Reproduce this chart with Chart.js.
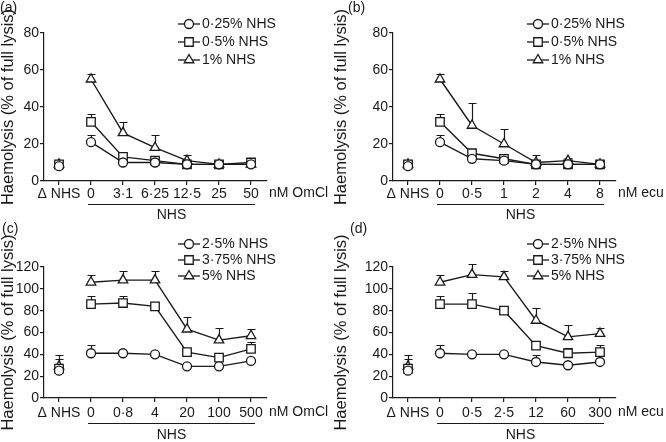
<!DOCTYPE html>
<html>
<head>
<meta charset="utf-8">
<script src="https://cdn.jsdelivr.net/npm/chart.js@4.4.0/dist/chart.umd.min.js"></script>
<style>
  html, body { margin: 0; padding: 0; background: #fff; }
  #wrap { position: relative; width: 666px; height: 442px; }
  canvas { position: absolute; }
</style>
</head>
<body>
<div id="wrap">
  <canvas id="pa" width="333" height="221" style="left:0;top:0"></canvas>
  <canvas id="pb" width="333" height="221" style="left:333px;top:0"></canvas>
  <canvas id="pc" width="333" height="221" style="left:0;top:221px"></canvas>
  <canvas id="pd" width="333" height="221" style="left:333px;top:221px"></canvas>
</div>
<script>
// tick labels (first one is the heat-inactivated control)
const labelsA = ['Δ NHS', '0', '3·1', '6·25', '12·5', '25', '50'];
const labelsB = ['Δ NHS', '0', '0·5', '1', '2', '4', '8'];
const labelsC = ['Δ NHS', '0', '0·8', '4', '20', '100', '500'];
const labelsD = ['Δ NHS', '0', '0·5', '2·5', '12', '60', '300'];

const namesAB = ['0·25% NHS', '0·5% NHS', '1% NHS'];
const namesCD = ['2·5% NHS', '3·75% NHS', '5% NHS'];

// (a) OmCl, low serum
const a1 = [8, 21, 10, 10, 9, 9, 9];
const a1Err = [2, 4, 1, 1, 0.5, 0.5, 0.5];
const a2 = [9, 32, 13, 11, 9, 9, 10];
const a2Err = [2, 4, 1, 1, 0.5, 0.5, 1];
const a3 = [9, 55, 26, 18, 11, 9, 9];
const a3Err = [2.5, 3, 6, 7, 3, 1, 1];

// (b) eculizumab, low serum
const b1 = [8, 21, 12, 11, 9, 9, 9];
const b1Err = [2, 4, 1, 1, 0.5, 0.5, 0.5];
const b2 = [9, 32, 15, 12, 9, 9, 9];
const b2Err = [2, 4, 1.5, 1, 1, 1, 1];
const b3 = [9, 55, 30, 20, 10, 11, 9];
const b3Err = [2.5, 3, 12, 8, 4, 1.5, 1];

// (c) OmCl, high serum
const c1 = [25, 41, 41, 40, 29, 29, 34];
const c1Err = [3, 8, 1, 1, 1, 1, 1];
const c2 = [27, 86, 87, 84, 42, 37, 45];
const c2Err = [9, 7, 6, 3, 2, 2, 6];
const c3 = [29, 106, 108, 108, 63, 53, 57];
const c3Err = [10, 7, 8, 8, 11, 11, 6];

// (d) eculizumab, high serum
const d1 = [25, 41, 40, 40, 33, 30, 33];
const d1Err = [3, 8, 1, 1, 6, 1, 1];
const d2 = [27, 86, 86, 80, 48, 41, 42];
const d2Err = [9, 7, 10, 2, 4, 5, 7];
const d3 = [29, 106, 113, 111, 71, 56, 59];
const d3Err = [10, 7, 10, 5, 11, 11, 5];

const INK = '#1a1a1a';
const FONT = '"Liberation Sans", Arial, sans-serif';
const styles = [
  { pointStyle: 'circle', radius: 4.5 },
  { pointStyle: 'rect', radius: 6 },
  { pointStyle: 'triangle', radius: 5.5 }
];

Chart.defaults.font.family = FONT;
Chart.defaults.font.size = 14;
Chart.defaults.color = INK;

function extras(cfg) {
  return {
    id: 'extras',
    beforeDatasetsDraw(chart) {
      const ctx = chart.ctx, xs = chart.scales.x, ys = chart.scales.y;
      ctx.save();
      ctx.strokeStyle = INK;
      ctx.lineWidth = 1.2;
      chart.data.datasets.forEach(ds => {
        ds.data.forEach((p, i) => {
          const e = ds.errs[i];
          if (!e) return;
          const x = Math.round(xs.getPixelForValue(p.x)) + 0.5;
          const y0 = ys.getPixelForValue(p.y);
          const y1 = Math.round(ys.getPixelForValue(p.y + e)) + 0.5;
          ctx.beginPath();
          ctx.moveTo(x, y0);
          ctx.lineTo(x, y1);
          ctx.moveTo(x - 4, y1);
          ctx.lineTo(x + 4, y1);
          ctx.stroke();
        });
      });
      ctx.restore();
    },
    afterDraw(chart) {
      const ctx = chart.ctx, xs = chart.scales.x, area = chart.chartArea;
      ctx.save();
      ctx.fillStyle = INK;
      ctx.strokeStyle = INK;
      ctx.font = '14px ' + FONT;
      ctx.textBaseline = 'middle';

      // panel tag
      ctx.textAlign = 'left';
      ctx.fillText(cfg.tag, cfg.tagX, 8.5);

      // unit after the axis
      ctx.fillText(cfg.unit, area.right + 2, area.bottom + cfg.gap[0]);

      // NHS bracket
      const x0 = xs.getPixelForValue(1) - 3, x1 = xs.getPixelForValue(6) + 4;
      const yl = Math.round(area.bottom + cfg.gap[1]) + 0.5;
      ctx.lineWidth = 1.2;
      ctx.beginPath();
      ctx.moveTo(x0, yl);
      ctx.lineTo(x1, yl);
      ctx.stroke();
      ctx.textAlign = 'center';
      ctx.fillText('NHS', (x0 + x1) / 2, area.bottom + cfg.gap[2]);

      // legend
      ctx.textAlign = 'left';
      cfg.names.forEach((name, i) => {
        const y = cfg.legendY[i];
        const lx = area.left + 134;
        ctx.lineWidth = 1.3;
        ctx.beginPath();
        ctx.moveTo(lx, y);
        ctx.lineTo(lx + 22, y);
        ctx.stroke();
        ctx.fillStyle = '#fff';
        Chart.helpers.drawPoint(ctx, {
          pointStyle: styles[i].pointStyle, radius: styles[i].radius,
          rotation: 0, borderWidth: 1.3
        }, lx + 11, y);
        ctx.fillStyle = INK;
        ctx.fillText(name, lx + 24, y);
      });
      ctx.restore();
    }
  };
}

function panel(id, cfg) {
  const datasets = cfg.values.map((vals, s) => ({
    label: cfg.names[s],
    data: vals.map((v, i) => ({ x: i, y: v })),
    errs: cfg.errs[s],
    borderColor: INK,
    borderWidth: 1.4,
    backgroundColor: '#fff',
    pointBackgroundColor: '#fff',
    pointBorderColor: INK,
    pointBorderWidth: 1.3,
    pointStyle: styles[s].pointStyle,
    pointRadius: styles[s].radius,
    pointHoverRadius: styles[s].radius,
    segment: {
      borderColor: c => c.p0DataIndex === 0 ? 'rgba(0,0,0,0)' : INK
    }
  }));

  return new Chart(document.getElementById(id), {
    type: 'line',
    data: { datasets },
    options: {
      responsive: false,
      animation: false,
      events: [],
      layout: {
        padding: { left: 0, top: cfg.yTop, bottom: 0, right: 333 - (cfg.axisX + 223) }
      },
      plugins: { legend: { display: false }, tooltip: { enabled: false } },
      scales: {
        x: {
          type: 'linear',
          min: -15 / 32,
          max: 6.5,
          afterBuildTicks: s => { s.ticks = cfg.labels.map((l, i) => ({ value: i })); },
          afterFit: s => { s.height = 221 - cfg.yBottom; },
          ticks: {
            autoSkip: false, maxRotation: 0, padding: cfg.tickPad,
            callback: v => cfg.labels[v]
          },
          grid: { drawOnChartArea: false, tickLength: 4, color: INK, lineWidth: 1.2 },
          border: { color: INK, width: 1.2 }
        },
        y: {
          min: 0,
          max: cfg.yMax,
          afterFit: s => { s.width = cfg.axisX; },
          ticks: { stepSize: 20, padding: 1 },
          grid: { drawOnChartArea: false, tickLength: 4, color: INK, lineWidth: 1.2 },
          border: { color: INK, width: 1.2 },
          title: {
            display: true, text: 'Haemolysis (% of full lysis)', color: INK,
            padding: 0, font: { size: 16.5, lineHeight: 1 }
          }
        }
      }
    },
    plugins: [extras(cfg)]
  });
}

panel('pa', {
  tag: '(a)', tagX: 0, unit: 'nM OmCl', labels: labelsA, names: namesAB,
  values: [a1, a2, a3], errs: [a1Err, a2Err, a3Err],
  axisX: 44, yTop: 33, yBottom: 181, yMax: 80, tickPad: 1,
  gap: [12.5, 22.5, 34.5], legendY: [24, 42, 60]
});
panel('pb', {
  tag: '(b)', tagX: 15, unit: 'nM ecu', labels: labelsB, names: namesAB,
  values: [b1, b2, b3], errs: [b1Err, b2Err, b3Err],
  axisX: 60, yTop: 33, yBottom: 181, yMax: 80, tickPad: 1,
  gap: [12.5, 22.5, 34.5], legendY: [24, 42, 60]
});
panel('pc', {
  tag: '(c)', tagX: 2, unit: 'nM OmCl', labels: labelsC, names: namesCD,
  values: [c1, c2, c3], errs: [c1Err, c2Err, c3Err],
  axisX: 44, yTop: 46, yBottom: 177, yMax: 120, tickPad: 2.5,
  gap: [14, 25, 37.5], legendY: [23, 39, 55]
});
panel('pd', {
  tag: '(d)', tagX: 17, unit: 'nM ecu', labels: labelsD, names: namesCD,
  values: [d1, d2, d3], errs: [d1Err, d2Err, d3Err],
  axisX: 60, yTop: 46, yBottom: 177, yMax: 120, tickPad: 2.5,
  gap: [14, 25, 37.5], legendY: [23, 39, 55]
});
</script>
</body>
</html>
